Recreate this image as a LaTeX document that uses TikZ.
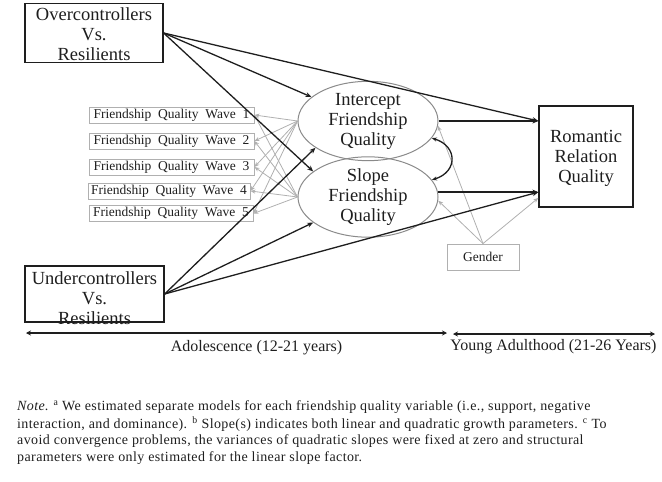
\documentclass[tikz,border=0pt]{standalone}
\usepackage{fontspec}
\setmainfont{Liberation Serif}
\newfontfamily\notefont[LetterSpace=2.8]{Liberation Serif}
\usetikzlibrary{arrows.meta,shapes.geometric}
\definecolor{ink}{HTML}{1E1E1E}
\definecolor{lgray}{HTML}{B0B0B0}
\definecolor{mgray}{HTML}{8A8A8A}
\begin{document}
\begin{tikzpicture}[x=1pt,y=-1pt,
  bigbox/.style={draw=ink,line width=1.3pt,inner sep=0pt},
  bigtext/.style={font=\fontsize{18.5}{20}\selectfont,align=center,text=ink},
  wavebox/.style={draw=lgray,line width=0.9pt,minimum width=165pt,minimum height=16pt,inner sep=0pt,font=\fontsize{13.5}{14}\selectfont,text=ink},
  latent/.style={ellipse,draw=mgray,line width=1pt,minimum width=140pt,minimum height=61pt,inner sep=0pt,font=\fontsize{18.5}{20}\selectfont,align=center,text=ink},
  mainarrow/.style={draw=ink,line width=1.3pt,-{Stealth[length=6pt,width=5pt]}},
  grayarrow/.style={draw=lgray,line width=0.8pt,-{Stealth[length=5pt,width=4pt]}},
  timearrow/.style={draw=ink,line width=1.1pt,{Stealth[length=5pt,width=5pt]}-{Stealth[length=5pt,width=5pt]}},
  notetext/.style={anchor=west,inner sep=0pt,font=\notefont\fontsize{14}{15}\selectfont,text=ink}
]
\useasboundingbox (0,0) rectangle (662,482);

% main boxes
\node[bigbox,minimum width=138pt,minimum height=59pt] (ovr) at (94,33) {};
\node[bigtext] (ovrt) at (94,34) {Overcontrollers\\Vs.\\Resilients};
\node[bigbox,minimum width=139pt,minimum height=56pt] (und) at (94.5,294) {};
\node[bigtext] (undt) at (94.5,298) {Undercontrollers\\Vs.\\Resilients};
\node[bigbox,minimum width=94pt,minimum height=101pt] (rom) at (586,156.5) {};
\node[bigtext] (romt) at (586,158) {Romantic\\Relation\\Quality};
\node[draw=lgray,line width=0.9pt,minimum width=72pt,minimum height=26pt,inner sep=0pt,font=\fontsize{13.5}{14}\selectfont,text=ink] (gen) at (483,257) {Gender};

% latent ellipses
\node[latent] (int) at (368,121) {Intercept\\Friendship\\Quality};
\node[latent] (slo) at (368,197) {Slope\\Friendship\\Quality};

% wave boxes
\node[wavebox] (w1) at (171.5,115) {Friendship\ \ Quality\ \ Wave\ \ 1};
\node[wavebox] (w2) at (171.5,141) {Friendship\ \ Quality\ \ Wave\ \ 2};
\node[wavebox] (w3) at (171.5,167) {Friendship\ \ Quality\ \ Wave\ \ 3};
\node[wavebox,minimum width=162pt] (w4) at (169,191) {Friendship\ \ Quality\ \ Wave\ \ 4};
\node[wavebox,minimum width=164pt] (w5) at (171,213.5) {Friendship\ \ Quality\ \ Wave\ \ 5};

% measurement arrows
\foreach \w in {w1,w2,w3,w4,w5}{
  \draw[grayarrow] (int.west) -- (\w.east);
  \draw[grayarrow] (slo.west) -- (\w.east);
}

% gender arrows
\draw[grayarrow] (gen.north) -- (int.-4);
\draw[grayarrow] (gen.north) -- (slo.-3);
\draw[grayarrow] (gen.north) -- (rom.221);

% structural arrows
\draw[mainarrow] (ovr.east) -- (int.157);
\draw[mainarrow] (ovr.east) -- (slo.155);
\draw[mainarrow] (ovr.east) -- (int.east -| rom.west);
\draw[mainarrow] (und.east) -- (int.207);
\draw[mainarrow] (und.east) -- (slo.205);
\draw[mainarrow] (und.east) -- (slo.4 -| rom.west);
\draw[mainarrow] (int.east) -- (int.east -| rom.west);
\draw[mainarrow] (slo.4) -- (slo.4 -| rom.west);
\draw[draw=ink,line width=1.3pt,{Stealth[length=5pt,width=4pt]}-{Stealth[length=5pt,width=4pt]}]
  (int.-15) .. controls +(26,8) and +(26,-8) .. (slo.15);

% timeline
\coordinate (t1a) at (26,333);
\coordinate (t1b) at (447,333);
\coordinate (t2a) at (453,334);
\coordinate (t2b) at (655,334);
\draw[timearrow] (t1a) -- (t1b);
\draw[timearrow] (t2a) -- (t2b);
\node[font=\fontsize{16}{18}\selectfont,text=ink] (adol) at (256.5,348) {Adolescence (12-21 years)};
\node[font=\fontsize{16}{18}\selectfont,text=ink] (young) at (553.5,347) {Young Adulthood (21-26 Years)};

% note
\node[notetext] (n1) at (17,407) {\textit{Note}. \textsuperscript{a} We estimated separate models for each friendship quality variable (i.e., support, negative};
\node[notetext] (n2) at (17,424) {interaction, and dominance). \textsuperscript{b} Slope(s) indicates both linear and quadratic growth parameters. \textsuperscript{c} To};
\node[notetext] (n3) at (17,441) {avoid convergence problems, the variances of quadratic slopes were fixed at zero and structural};
\node[notetext] (n4) at (17,458) {parameters were only estimated for the linear slope factor.};
\end{tikzpicture}
\end{document}
